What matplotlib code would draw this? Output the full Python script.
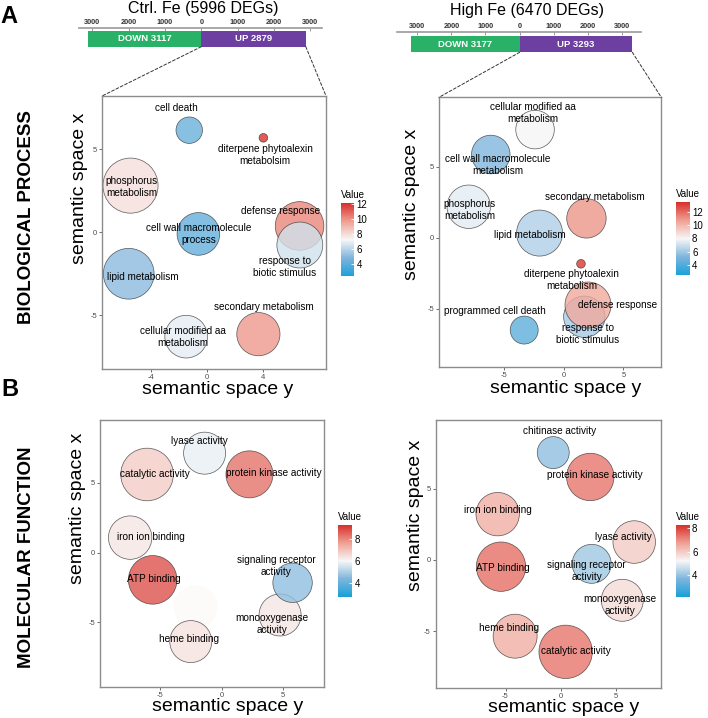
import matplotlib
matplotlib.use("Agg")
import matplotlib.pyplot as plt
from matplotlib.colors import LinearSegmentedColormap, Normalize
from matplotlib.cm import ScalarMappable
from matplotlib.patches import ConnectionPatch

plt.rcParams['font.family'] = ['Liberation Sans', 'DejaVu Sans']
plt.rcParams['axes.unicode_minus'] = False

W, H = 708, 718  # figure size in pixels

# ---- DEG counts (top bars) ----
ctrl_title = "Ctrl. Fe (5996 DEGs)"
high_title = "High Fe (6470 DEGs)"
ctrl_down, ctrl_up = 3117, 2879
high_down, high_up = 3177, 3293
deg_ticks = [-3000, -2000, -1000, 0, 1000, 2000, 3000]

# ---- A: biological process, control Fe ----
bp_ctrl_terms = ["phosphorus\nmetabolism", "lipid metabolism", "defense response",
                 "response to\nbiotic stimulus", "secondary metabolism",
                 "cell wall macromolecule\nprocess", "cellular modified aa\nmetabolism",
                 "cell death", "diterpene phytoalexin\nmetabolsim"]
bp_ctrl_x = [-5.5, -5.63, 6.65, 6.67, 3.69, -0.62, -1.5, -1.28, 4.05]
bp_ctrl_y = [2.8, -2.51, 0.37, -0.78, -6.15, -0.11, -6.3, 6.14, 5.68]
bp_ctrl_value = [7.9, 5.1, 10.2, 6.5, 9.8, 4.2, 6.9, 4.4, 12.0]
bp_ctrl_logsize = [5.1, 4.7, 4.5, 4.25, 4.0, 3.95, 3.95, 2.45, 0.8]
bp_ctrl_range = (2.46, 12.05)

# ---- A: biological process, high Fe ----
bp_high_terms = ["lipid metabolism", "phosphorus\nmetabolism", "response to\nbiotic stimulus",
                 "defense response", "secondary metabolism", "cellular modified aa\nmetabolism",
                 "cell wall macromolecule\nmetabolism", "programmed cell death",
                 "diterpene phytoalexin\nmetabolism"]
bp_high_x = [-2.05, -8.0, 1.71, 2.02, 1.89, -2.43, -6.15, -3.34, 1.43]
bp_high_y = [0.33, 2.19, -5.58, -4.75, 1.37, 7.64, 5.88, -6.52, -1.84]
bp_high_value = [6.3, 7.5, 6.1, 10.4, 10.9, 8.0, 5.3, 4.3, 13.2]
bp_high_logsize = [4.26, 4.02, 3.83, 4.26, 3.65, 3.57, 3.57, 2.59, 0.8]
bp_high_range = (2.5, 13.4)

# ---- B: molecular function, control Fe ----
mf_ctrl_terms = ["catalytic activity", "ATP binding", "protein kinase activity", "",
                 "iron ion binding", "lyase activity", "heme binding",
                 "monooxygenase\nactivity", "signaling receptor\nactivity"]
mf_ctrl_x = [-6.08, -5.62, 2.28, -2.13, -7.46, -1.38, -2.51, 4.78, 5.8]
mf_ctrl_y = [5.61, -1.95, 5.62, -3.91, 1.08, 7.14, -6.38, -4.47, -2.16]
mf_ctrl_value = [6.8, 8.8, 8.3, 6.5, 6.3, 5.8, 6.4, 6.3, 4.6]
mf_ctrl_logsize = [4.87, 4.5, 4.35, 4.07, 4.02, 3.89, 3.89, 3.89, 3.65]
mf_ctrl_range = (2.7, 9.3)

# ---- B: molecular function, high Fe ----
mf_high_terms = ["catalytic activity", "ATP binding", "protein kinase activity", "heme binding",
                 "iron ion binding", "lyase activity", "monooxygenase\nactivity",
                 "signaling receptor\nactivity", "chitinase activity"]
mf_high_x = [0.44, -5.41, 2.67, -4.13, -5.71, 6.65, 5.57, 2.8, -0.68]
mf_high_y = [-6.45, -0.47, 5.83, -5.35, 3.22, 1.26, -2.83, -0.27, 7.54]
mf_high_value = [7.3, 7.4, 7.3, 6.5, 6.5, 6.0, 5.7, 4.1, 3.9]
mf_high_logsize = [4.94, 4.57, 4.39, 4.07, 4.02, 3.94, 3.89, 3.61, 2.96]
mf_high_range = (2.14, 8.28)

# label placement (data units) for each term
BP_CTRL_LABELS = {
    "cell death": (-2.18, 7.45), "diterpene phytoalexin\nmetabolsim": (4.17, 4.64),
    "phosphorus\nmetabolism": (-5.4, 2.7), "defense response": (5.25, 1.26),
    "response to\nbiotic stimulus": (5.6, -2.09), "cell wall macromolecule\nprocess": (-0.62, -0.1),
    "lipid metabolism": (-4.65, -2.73), "secondary metabolism": (4.12, -4.5),
    "cellular modified aa\nmetabolism": (-1.75, -6.3)}
BP_HIGH_LABELS = {
    "cellular modified aa\nmetabolism": (-2.58, 8.78), "cell wall macromolecule\nmetabolism": (-5.58, 5.11),
    "phosphorus\nmetabolism": (-7.9, 1.93), "secondary metabolism": (2.61, 2.9),
    "lipid metabolism": (-2.83, 0.19), "diterpene phytoalexin\nmetabolism": (0.67, -2.99),
    "defense response": (4.5, -4.75), "programmed cell death": (-5.8, -5.16),
    "response to\nbiotic stimulus": (1.99, -6.82)}
MF_CTRL_LABELS = {
    "lyase activity": (-1.78, 8.03), "catalytic activity": (-5.43, 5.65),
    "protein kinase activity": (4.3, 5.74), "iron ion binding": (-5.76, 1.15),
    "ATP binding": (-5.56, -1.89), "heme binding": (-2.62, -6.19),
    "signaling receptor\nactivity": (4.46, -0.98), "monooxygenase\nactivity": (4.11, -5.14)}
MF_HIGH_LABELS = {
    "chitinase activity": (-0.09, 9.06), "protein kinase activity": (3.05, 5.95),
    "iron ion binding": (-5.7, 3.51), "lyase activity": (5.63, 1.64),
    "ATP binding": (-5.25, -0.58), "signaling receptor\nactivity": (2.34, -0.74),
    "monooxygenase\nactivity": (5.39, -3.15), "heme binding": (-4.71, -4.8),
    "catalytic activity": (1.35, -6.39)}

CMAP = LinearSegmentedColormap.from_list(
    "revigo", [(0.0, "#1AA1D9"), (0.25, "#7FB5DC"), (0.5, "#F7F7F7"),
               (0.75, "#EFA093"), (1.0, "#D7302C")])
GREEN, PURPLE = "#2AB168", "#6C3FA1"

fig = plt.figure(figsize=(W / 100, H / 100), dpi=100)


def px_axes(left, top, right, bottom):
    return fig.add_axes([left / W, 1 - bottom / H, (right - left) / W, (bottom - top) / H])


def ftext(x, y, s, **kw):
    fig.text(x / W, 1 - y / H, s, **kw)


def deg_bar(box, down, up, xlim, bar_h):
    ax = px_axes(*box)
    ax.barh(0, -down, height=bar_h, left=0, align='edge', color=GREEN)
    ax.barh(0, up, height=bar_h, left=0, align='edge', color=PURPLE)
    ax.text(-down / 2, bar_h / 2, "DOWN %d" % down, color='white', fontsize=6.8,
            fontweight='bold', ha='center', va='center')
    ax.text(up / 2, bar_h / 2, "UP %d" % up, color='white', fontsize=6.8,
            fontweight='bold', ha='center', va='center')
    ax.set_xlim(*xlim)
    ax.set_ylim(0, 1)
    for side in ['left', 'right', 'bottom']:
        ax.spines[side].set_visible(False)
    ax.spines['top'].set_color('#9a9a9a')
    ax.spines['top'].set_linewidth(1.2)
    ax.set_yticks([])
    ax.set_xticks(deg_ticks)
    ax.set_xticklabels([str(abs(t)) for t in deg_ticks])
    ax.xaxis.tick_top()
    ax.tick_params(axis='x', direction='in', length=2, width=0.6, color='#888888',
                   labelsize=5.3, pad=1.5, labelcolor='#333333')
    for lab in ax.get_xticklabels():
        lab.set_fontweight('bold')
    return ax


def bubble_panel(box, terms, xs, ys, values, logsize, vrange, xlim, ylim, xticks, labels):
    ax = px_axes(*box)
    norm = Normalize(*vrange)
    sizes = [(2 * 5.4 * v * 0.72) ** 2 for v in logsize]
    shown = [i for i, t in enumerate(terms) if t]
    faded = [i for i, t in enumerate(terms) if not t]
    if faded:
        ax.scatter([xs[i] for i in faded], [ys[i] for i in faded], s=[sizes[i] for i in faded],
                   c=[values[i] for i in faded], cmap=CMAP, norm=norm, alpha=0.12,
                   edgecolors='none', zorder=1)
    ax.scatter([xs[i] for i in shown], [ys[i] for i in shown], s=[sizes[i] for i in shown],
               c=[values[i] for i in shown], cmap=CMAP, norm=norm, alpha=0.8,
               edgecolors='#333333', linewidths=0.5, zorder=2)
    for t, (lx, ly) in labels.items():
        ax.text(lx, ly, t, ha='center', va='center', fontsize=7.2, linespacing=1.25, zorder=3)
    ax.set_xlim(*xlim)
    ax.set_ylim(*ylim)
    ax.set_xticks(xticks)
    ax.set_yticks([-5, 0, 5])
    for sp in ax.spines.values():
        sp.set_color('#8c8c8c')
        sp.set_linewidth(1.0)
    ax.tick_params(length=2.5, width=0.6, color='#555555', labelsize=5.5,
                   labelcolor='#4d4d4d', pad=1.0)
    return ax


def value_bar(box, vrange, ticks):
    cax = px_axes(*box)
    cb = fig.colorbar(ScalarMappable(norm=Normalize(*vrange), cmap=CMAP), cax=cax)
    cb.outline.set_visible(False)
    cb.set_ticks(ticks)
    cax.tick_params(length=2, width=0.6, colors='white', labelcolor='black',
                    labelsize=7, pad=1.5, direction='in')
    ftext(box[0], box[1] - 8, "Value", fontsize=7, ha='left', va='center')


# ---- top DEG bars ----
bar_l = deg_bar((79, 28.3, 321.7, 46.7), ctrl_down, ctrl_up, (-3369, 3317), 0.837)
bar_r = deg_bar((397.3, 31.7, 641.3, 52.3), high_down, high_up, (-3579, 3556), 0.79)
ftext(203, 9, ctrl_title, fontsize=11.5, ha='center', va='center')
ftext(527, 10, high_title, fontsize=11.5, ha='center', va='center')

# ---- bubble panels ----
ax_a1 = bubble_panel((102, 96, 326, 369), bp_ctrl_terms, bp_ctrl_x, bp_ctrl_y, bp_ctrl_value,
                     bp_ctrl_logsize, bp_ctrl_range, (-7.55, 8.55), (-8.25, 8.2), [-4, 0, 4],
                     BP_CTRL_LABELS)
ax_a2 = bubble_panel((439, 97.3, 661.3, 367.3), bp_high_terms, bp_high_x, bp_high_y, bp_high_value,
                     bp_high_logsize, bp_high_range, (-10.5, 8.18), (-9.15, 9.92), [-5, 0, 5],
                     BP_HIGH_LABELS)
ax_b1 = bubble_panel((100, 420, 324.3, 687.3), mf_ctrl_terms, mf_ctrl_x, mf_ctrl_y, mf_ctrl_value,
                     mf_ctrl_logsize, mf_ctrl_range, (-9.92, 8.39), (-9.66, 9.52), [-5, 0, 5],
                     MF_CTRL_LABELS)
ax_b2 = bubble_panel((435.7, 420, 661.3, 688.3), mf_high_terms, mf_high_x, mf_high_y, mf_high_value,
                     mf_high_logsize, mf_high_range, (-11.32, 9.1), (-9.01, 9.83), [-5, 0, 5],
                     MF_HIGH_LABELS)

# dashed zoom lines from the UP bars to the bubble plots
for bar, up, ax in [(bar_l, ctrl_up, ax_a1), (bar_r, high_up, ax_a2)]:
    for xa, xb in [(0, 0), (up, 1)]:
        con = ConnectionPatch(xyA=(xa, 0), coordsA=bar.transData, xyB=(xb, 1),
                              coordsB=ax.transAxes, linestyle=(0, (3, 2)),
                              color='#333333', linewidth=0.7)
        fig.add_artist(con)

# colour bars
value_bar((341, 203.3, 354.3, 276), bp_ctrl_range, [4, 6, 8, 10, 12])
value_bar((676, 202.3, 690, 275), bp_high_range, [4, 6, 8, 10, 12])
value_bar((337.7, 525, 352.3, 596.7), mf_ctrl_range, [4, 6, 8])
value_bar((675.7, 525, 690, 596.7), mf_high_range, [4, 6, 8])

# axis titles
for x, y in [(217.5, 389.5), (565.7, 388.5), (227.5, 706.5), (564, 707.5)]:
    ftext(x, y, "semantic space y", fontsize=14, ha='center', va='center')
for x, y in [(80, 188.5), (412, 204), (78, 508), (415.7, 515)]:
    ftext(x, y, "semantic space x", fontsize=14, ha='center', va='center', rotation=90)

# row titles and panel letters
ftext(27, 217, "BIOLOGICAL PROCESS", fontsize=13.5, fontweight='bold', rotation=90,
      ha='center', va='center')
ftext(27, 557, "MOLECULAR FUNCTION", fontsize=13.5, fontweight='bold', rotation=90,
      ha='center', va='center')
ftext(9, 16.5, "A", fontsize=17, fontweight='bold', ha='center', va='center')
ftext(10, 390, "B", fontsize=17, fontweight='bold', ha='center', va='center')

fig.savefig("out.png", dpi=100)
